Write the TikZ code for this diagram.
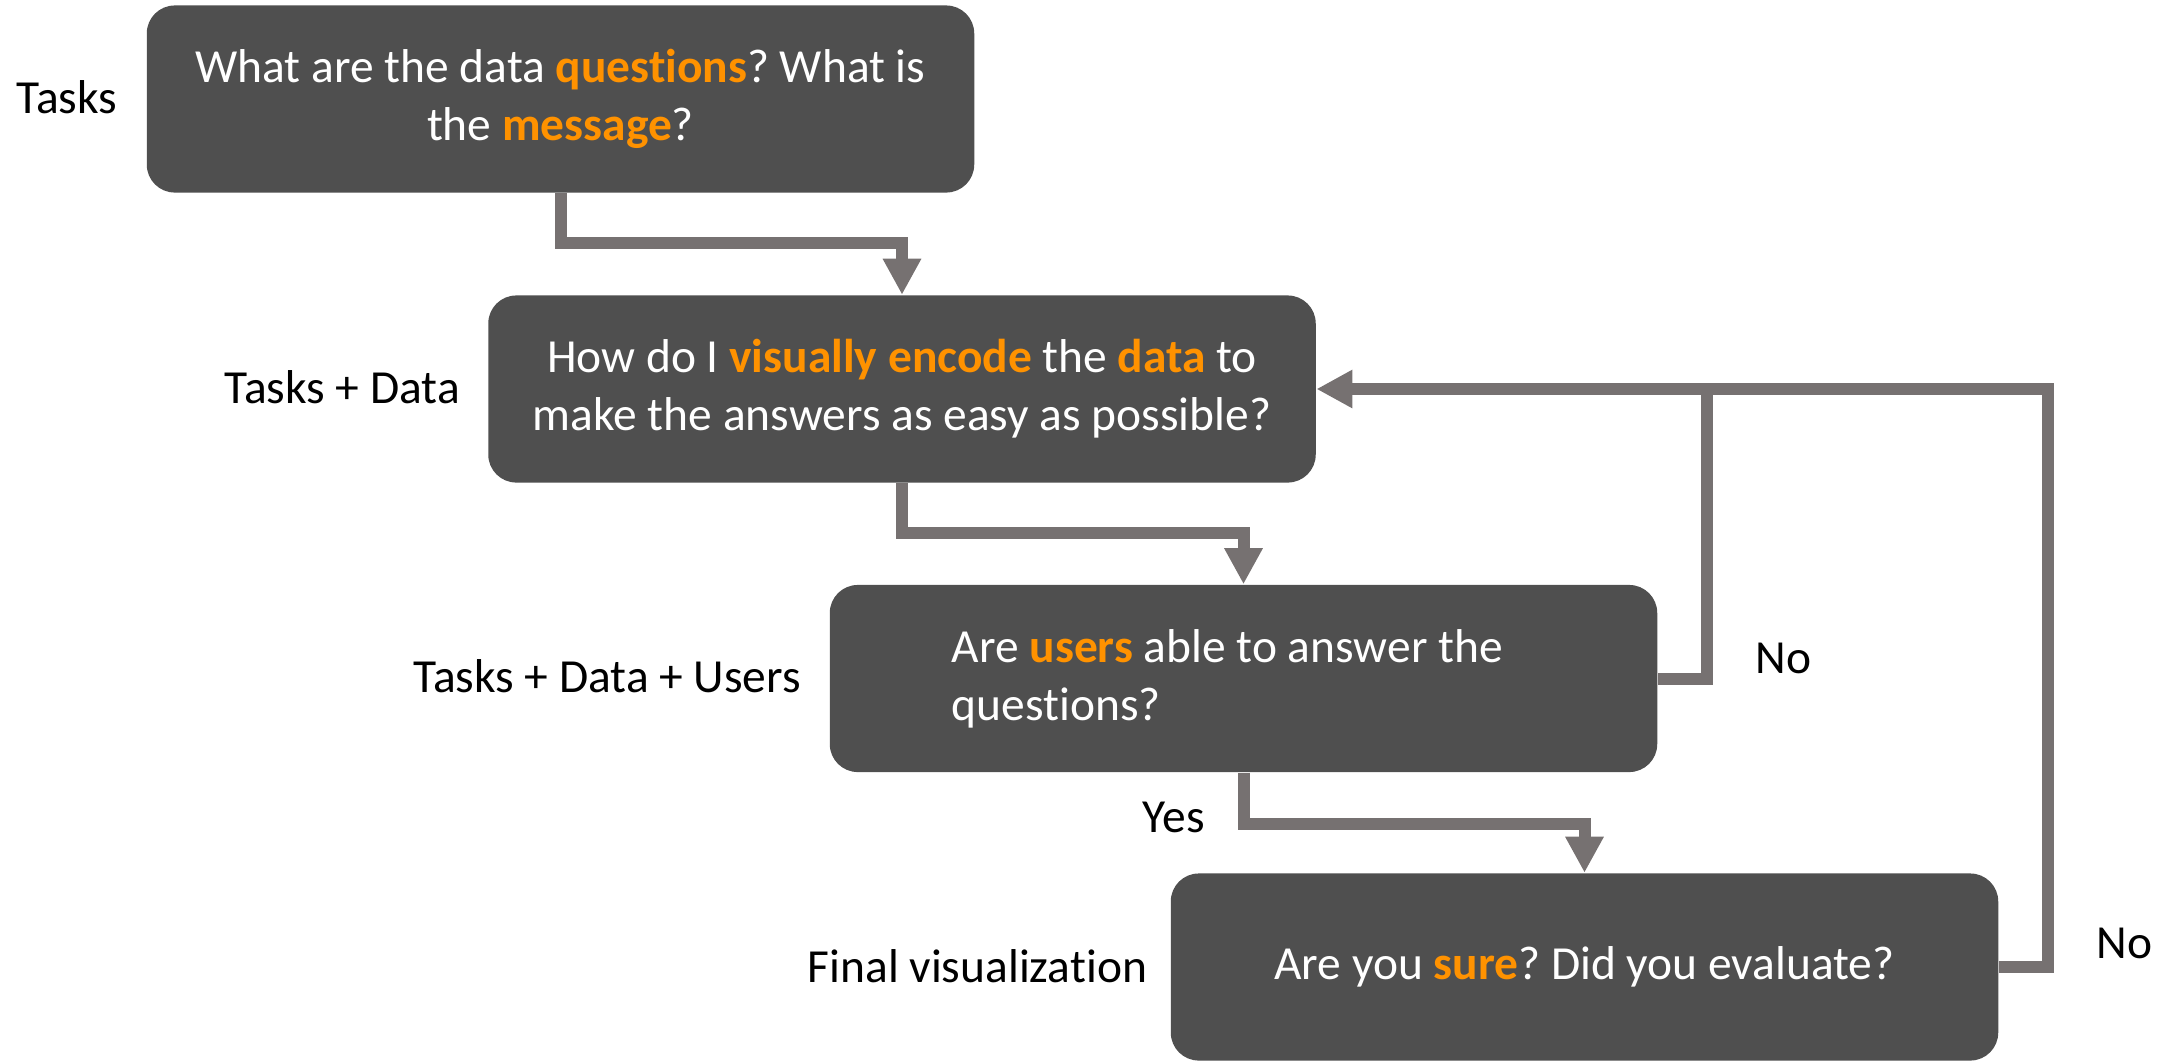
\documentclass[tikz,border=0pt]{standalone}
\usepackage{fontspec}
\setmainfont[Ligatures=NoCommon]{Carlito}
\usetikzlibrary{arrows.meta,calc}
\definecolor{boxgray}{HTML}{4F4F4F}
\definecolor{linkgray}{HTML}{767171}
\definecolor{accent}{HTML}{FF9200}
\newcommand{\hl}[1]{\textcolor{accent}{\bfseries #1}}
\frenchspacing

\begin{document}
\begin{tikzpicture}[x=0.01cm,y=-0.01cm,
  stepbox/.style={fill=boxgray, rounded corners=0.28cm, minimum width=8.27cm,
    minimum height=1.87cm, inner sep=0pt, text=white, align=center,
    font=\fontsize{13.5pt}{16.5pt}\selectfont},
  tag/.style={inner sep=0pt, anchor=base west, font=\fontsize{13.5pt}{16.5pt}\selectfont},
  link/.style={draw=linkgray, line width=0.12cm},
  flow/.style={link, -{Triangle[width=0.36cm,length=0.36cm]}}]

\useasboundingbox (0,0) rectangle (2166,1060);

% process steps
\node[stepbox] (b1) at (560.5,99)
  {What are the data \hl{questions}? What is\\the \hl{message}?};
\node[stepbox] (b2) at (902,389)
  {How do I \hl{visually encode} the \hl{data} to\\make the answers as easy as possible?};
\node[stepbox, align=flush left, text width=5.83cm] (b3) at (1243.5,678.5)
  {Are \hl{users} able to answer the\\questions?};
\node[stepbox] (b4) at (1584.5,967)
  {Are you \hl{sure}? Did you evaluate?};

% stage labels on the left
\node[tag] (t1) at (16,113) {Tasks};
\node[tag] (t2) at (224,403) {Tasks + Data};
\node[tag] (t3) at (413,692) {Tasks + Data + Users};
\node[tag] (t4) at (807,982) {Final visualization};

% answer labels
\node[tag] (yes) at (1142,832) {Yes};
\node[tag] (no1) at (1755,673) {No};
\node[tag] (no2) at (2096,958) {No};

% elbow points of the connectors
\coordinate (m12) at (731,243);
\coordinate (m23) at (1072,533);
\coordinate (m34) at (1414,824);
\coordinate (j) at (1707,389);
\coordinate (c) at (2048,389);

% forward flow
\draw[flow] (b1.south) |- (m12) -| (b2.north);
\draw[flow] (b2.south) |- (m23) -| (b3.north);
\draw[flow] (b3.south) |- (m34) -| (b4.north);

% feedback loops
\draw[link] (b4.east) -| (c) -- (j);
\draw[flow] (b3.east) -| (j) -- (b2.east);
\end{tikzpicture}
\end{document}
